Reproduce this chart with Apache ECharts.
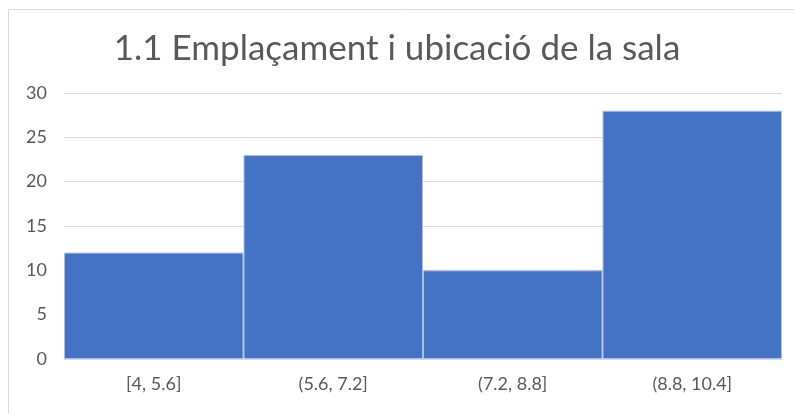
<!DOCTYPE html>
<html>
<head>
<meta charset="utf-8">
<script src="https://cdn.jsdelivr.net/npm/echarts@6/dist/echarts.min.js"></script>
<style>
  html, body { margin: 0; padding: 0; background: #fff; }
  #chart { width: 794px; height: 414px; }
</style>
</head>
<body>
<div id="chart"></div>
<script>
const title = '1.1 Emplaçament i ubicació de la sala';
const categories = ['[4, 5.6]', '(5.6, 7.2]', '(7.2, 8.8]', '(8.8, 10.4]'];
const counts = [12, 23, 10, 28];
const yTicks = { min: 0, max: 30, interval: 5 };

const chart = echarts.init(document.getElementById('chart'));
const textColor = '#595959';
const font = 'Lato, "Open Sans", sans-serif';

chart.setOption({
  animation: false,
  title: {
    text: title,
    left: 'center',
    top: 26,
    textStyle: { color: textColor, fontSize: 35, fontWeight: 'normal', fontFamily: font }
  },
  graphic: [{
    type: 'rect',
    shape: { x: 8.5, y: 9.5, width: 800, height: 420 },
    style: { fill: 'none', stroke: '#d9d9d9', lineWidth: 1 },
    silent: true
  }],
  grid: { left: 64, right: 12, top: 93, bottom: 55 },
  xAxis: {
    type: 'category',
    data: categories,
    axisLine: { show: true, lineStyle: { color: '#d9d9d9' } },
    axisTick: { show: false },
    axisLabel: { color: textColor, fontSize: 18, fontFamily: font, margin: 16 }
  },
  yAxis: {
    type: 'value',
    min: yTicks.min,
    max: yTicks.max,
    interval: yTicks.interval,
    axisLine: { show: false },
    axisTick: { show: false },
    axisLabel: { color: textColor, fontSize: 18, fontFamily: font, margin: 17 },
    splitLine: { lineStyle: { color: '#d9d9d9', width: 1 } }
  },
  series: [{
    type: 'bar',
    data: counts,
    barCategoryGap: '0%',
    itemStyle: { color: '#4472c4', borderColor: '#a9bfe6', borderWidth: 1 }
  }]
});
</script>
</body>
</html>
